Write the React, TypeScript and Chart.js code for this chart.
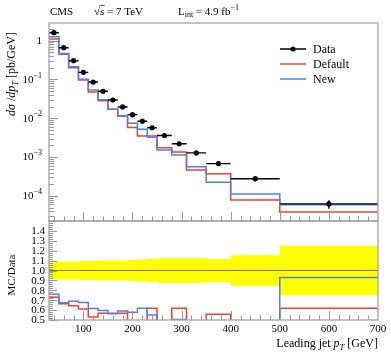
import React, { useEffect, useRef } from "react";
import { Chart, registerables } from "chart.js";
Chart.register(...registerables);

// ---------- data ----------
const binEdges = [30, 50, 70, 90, 110, 130, 150, 170, 190, 210, 230, 250, 280, 310, 350, 400, 500, 700];
const dataValues = [1.61, 0.66, 0.305, 0.153, 0.086, 0.0497, 0.0296, 0.0196, 0.0124, 0.0084, 0.0057, 0.0036, 0.0022, 0.00128, 6.8e-4, 2.77e-4, 6.2e-5];
const dataRelErr = [0.09, 0.09, 0.09, 0.095, 0.095, 0.1, 0.1, 0.1, 0.105, 0.11, 0.115, 0.125, 0.125, 0.125, 0.115, 0.155, 0.25];
const defaultValues = [1.11, 0.445, 0.202, 0.097, 0.0476, 0.0285, 0.017, 0.0115, 0.0058, 0.0035, 0.0035, 0.00175, 0.00135, 4.65e-4, 3.74e-4, 7.8e-5, 3.85e-5];
const newValues = [1.27, 0.47, 0.214, 0.101, 0.0536, 0.0302, 0.017, 0.0115, 0.0074, 0.0052, 0.00323, 0.00152, 0.00113, 5.66e-4, 2.24e-4, 1.12e-4, 5.93e-5];
const defaultRatio = [0.73, 0.665, 0.645, 0.612, 0.53, 0.567, 0.567, 0.567, 0.47, 0.42, 0.618, 0.48, 0.618, 0.36, 0.557, 0.28, 0.618];
const newRatio = [0.761, 0.673, 0.69, 0.676, 0.615, 0.595, 0.564, 0.592, 0.578, 0.618, 0.551, 0.42, 0.505, 0.44, 0.33, 0.4, 0.929];
const xMajorTicks = [100, 200, 300, 400, 500, 600, 700];
const mainDecadeExponents = [0, -1, -2, -3, -4];
const ratioTickValues = [0.5, 0.6, 0.7, 0.8, 0.9, 1.0, 1.1, 1.2, 1.3, 1.4];
const legendLabels = ["Data", "Default", "New"];

// ---------- layout / style ----------
const W = 391, H = 353;
const LEFT = 49, RIGHT = 378, MAIN_TOP = 23, SPLIT = 221, RATIO_BOTTOM = 320;
const X_MIN = 30, X_MAX = 700;
const Y_MIN = 2.25e-5, Y_MAX = 2.86;
const RED = "#f0412c", BLUE = "#4f7ff0", YELLOW = "#ffff00", FRAME = "#a3a3a3", TICK = "#999999";
const SERIF = '"Liberation Serif", "Times New Roman", serif';
const font = (size: number, italic = false) => `${italic ? "italic " : ""}${size}px ${SERIF}`;

type Part = { t: string; size: number; italic?: boolean; dy?: number };
function richWidth(ctx: CanvasRenderingContext2D, parts: Part[]) {
  let w = 0;
  for (const p of parts) { ctx.font = font(p.size, p.italic); w += ctx.measureText(p.t).width; }
  return w;
}
function drawRich(ctx: CanvasRenderingContext2D, parts: Part[], x: number, y: number, align: "left" | "right" | "center" = "left") {
  const w = richWidth(ctx, parts);
  let cx = align === "left" ? x : align === "right" ? x - w : x - w / 2;
  ctx.textAlign = "left";
  for (const p of parts) {
    ctx.font = font(p.size, p.italic);
    ctx.fillText(p.t, cx, y + (p.dy || 0));
    cx += ctx.measureText(p.t).width;
  }
  return w;
}

function stepPoints(vals: number[]) {
  const pts: { x: number; y: number }[] = [];
  vals.forEach((v, i) => { pts.push({ x: binEdges[i], y: v }); pts.push({ x: binEdges[i + 1], y: v }); });
  return pts;
}
const centers = dataValues.map((_, i) => (binEdges[i] + binEdges[i + 1]) / 2);

function hline(ctx: CanvasRenderingContext2D, x1: number, y1: number, x2: number, y2: number) {
  ctx.beginPath(); ctx.moveTo(x1, y1); ctx.lineTo(x2, y2); ctx.stroke();
}

function drawFrame(ctx: CanvasRenderingContext2D, a: any) {
  ctx.strokeStyle = FRAME; ctx.lineWidth = 1.3;
  ctx.strokeRect(a.left, a.top, a.right - a.left, a.bottom - a.top);
}
function drawXTicks(ctx: CanvasRenderingContext2D, a: any, xs: any) {
  ctx.strokeStyle = TICK; ctx.lineWidth = 1;
  for (let v = 40; v < X_MAX; v += 20) {
    const px = Math.round(xs.getPixelForValue(v)) + 0.5;
    const len = v % 100 === 0 ? 9 : 4.5;
    hline(ctx, px, a.bottom, px, a.bottom - len);
  }
}

const mainDecor = {
  id: "mainDecor",
  afterDraw(chart: any) {
    const { ctx, chartArea: a, scales } = chart;
    const xs = scales.x, ys = scales.y;
    ctx.save();
    // y ticks
    ctx.strokeStyle = TICK; ctx.lineWidth = 1;
    for (let e = -5; e <= 0; e++) for (let m = 1; m <= 9; m++) {
      const v = m * Math.pow(10, e);
      if (v < Y_MIN || v > Y_MAX) continue;
      const py = Math.round(ys.getPixelForValue(v)) + 0.5;
      hline(ctx, a.left, py, a.left + (m === 1 ? 9 : 5), py);
    }
    drawXTicks(ctx, a, xs);
    drawFrame(ctx, a);
    // y tick labels
    ctx.fillStyle = "#000"; ctx.textBaseline = "middle";
    for (const e of mainDecadeExponents) {
      const py = ys.getPixelForValue(Math.pow(10, e));
      if (e === 0) drawRich(ctx, [{ t: "1", size: 11 }], 42, py + 0.5, "right");
      else drawRich(ctx, [{ t: "10", size: 11 }, { t: "\u2212" + String(-e), size: 8, dy: -4.5 }], 42, py + 0.5, "right");
    }
    // header
    ctx.textBaseline = "alphabetic";
    drawRich(ctx, [{ t: "CMS", size: 11 }], 50, 14.5);
    ctx.font = font(11);
    const sqrtW = ctx.measureText("\u221A").width;
    drawRich(ctx, [{ t: "\u221A", size: 11 }], 94, 14.5);
    ctx.font = font(11, true);
    const sW = ctx.measureText("s").width;
    ctx.strokeStyle = "#000"; ctx.lineWidth = 0.7;
    hline(ctx, 94 + sqrtW - 0.5, 5.3, 94 + sqrtW + sW + 0.5, 5.3);
    drawRich(ctx, [{ t: "s", size: 11, italic: true }, { t: " = 7 TeV", size: 11 }], 94 + sqrtW, 14.5);
    drawRich(ctx, [{ t: "L", size: 11 }, { t: "int", size: 8, dy: 2.5 }, { t: " = 4.9 fb", size: 11 }, { t: "\u22121", size: 8, dy: -4.5 }], 178, 14.5);
    // legend
    const rows = [49, 64, 79];
    const cols = ["#000", RED, BLUE];
    legendLabels.forEach((lab, i) => {
      ctx.strokeStyle = cols[i]; ctx.lineWidth = 1.5;
      hline(ctx, 280, rows[i], 306, rows[i]);
      if (i === 0) { ctx.fillStyle = "#000"; ctx.beginPath(); ctx.arc(293, rows[i], 2.5, 0, Math.PI * 2); ctx.fill(); }
      ctx.fillStyle = "#000"; ctx.textBaseline = "middle";
      drawRich(ctx, [{ t: lab, size: 12 }], 313, rows[i] + 0.5);
    });
    // y title
    ctx.save();
    ctx.textBaseline = "alphabetic";
    const parts: Part[] = [
      { t: "d\u03C3", size: 12, italic: true }, { t: " /", size: 12 }, { t: "dp", size: 12, italic: true },
      { t: "T", size: 8.5, italic: true, dy: 3 }, { t: " [pb/GeV]", size: 12 },
    ];
    const tw = richWidth(ctx, parts);
    ctx.translate(15, 32 + tw);
    ctx.rotate(-Math.PI / 2);
    drawRich(ctx, parts, 0, 0);
    ctx.restore();
    ctx.restore();
  },
};

const ratioDecor = {
  id: "ratioDecor",
  afterDraw(chart: any) {
    const { ctx, chartArea: a, scales } = chart;
    const xs = scales.x, ys = scales.y;
    ctx.save();
    ctx.strokeStyle = TICK; ctx.lineWidth = 1;
    for (let k = 25; k <= 75; k++) {
      const v = k * 0.02;
      const py = Math.round(ys.getPixelForValue(v)) + 0.5;
      hline(ctx, a.left, py, a.left + (k % 5 === 0 ? 8 : 4), py);
    }
    drawXTicks(ctx, a, xs);
    drawFrame(ctx, a);
    ctx.fillStyle = "#000"; ctx.textBaseline = "middle";
    for (const v of ratioTickValues) {
      drawRich(ctx, [{ t: v.toFixed(1), size: 11 }], 45, ys.getPixelForValue(v) + 0.5, "right");
    }
    for (const v of xMajorTicks) {
      drawRich(ctx, [{ t: String(v), size: 11 }], xs.getPixelForValue(v), 329, "center");
    }
    ctx.textBaseline = "alphabetic";
    drawRich(ctx, [{ t: "Leading jet ", size: 12 }, { t: "p", size: 12, italic: true }, { t: "T", size: 8.5, italic: true, dy: 3 }, { t: " [GeV]", size: 12 }], RIGHT, 347, "right");
    ctx.save();
    ctx.translate(15, 275);
    ctx.rotate(-Math.PI / 2);
    drawRich(ctx, [{ t: "MC/Data", size: 11 }], 0, 0, "center");
    ctx.restore();
    ctx.restore();
  },
};

const lineDefaults = { pointRadius: 0, pointHoverRadius: 0, tension: 0, fill: false, borderCapStyle: "butt", borderJoinStyle: "miter", spanGaps: false };

function mainConfig(): any {
  const hErr: any[] = [];
  const vErr: any[] = [];
  dataValues.forEach((v, i) => {
    hErr.push({ x: binEdges[i], y: v }, { x: binEdges[i + 1], y: v }, { x: binEdges[i + 1], y: null });
    vErr.push({ x: centers[i], y: v * (1 - dataRelErr[i]) }, { x: centers[i], y: v * (1 + dataRelErr[i]) }, { x: centers[i], y: null });
  });
  return {
    type: "line",
    data: {
      datasets: [
        { label: "Data", data: centers.map((c, i) => ({ x: c, y: dataValues[i] })), showLine: false, pointRadius: 2.6, pointHoverRadius: 2.6, pointBackgroundColor: "#000", pointBorderWidth: 0, order: 0 },
        { ...lineDefaults, data: hErr, borderColor: "#000", borderWidth: 1.4, order: 1 },
        { ...lineDefaults, data: vErr, borderColor: "#000", borderWidth: 1.4, order: 1 },
        { ...lineDefaults, label: "New", data: stepPoints(newValues), borderColor: BLUE, borderWidth: 1.5, order: 2 },
        { ...lineDefaults, label: "Default", data: stepPoints(defaultValues), borderColor: RED, borderWidth: 1.5, order: 3 },
      ],
    },
    options: {
      responsive: false, animation: false, events: [],
      layout: { padding: { left: LEFT, right: W - RIGHT, top: MAIN_TOP, bottom: H - SPLIT } },
      plugins: { legend: { display: false }, tooltip: { enabled: false } },
      scales: {
        x: { type: "linear", min: X_MIN, max: X_MAX, display: false },
        y: { type: "logarithmic", min: Y_MIN, max: Y_MAX, display: false },
      },
    },
    plugins: [mainDecor],
  };
}

function ratioConfig(): any {
  return {
    type: "line",
    data: {
      datasets: [
        { ...lineDefaults, data: [{ x: X_MIN, y: 1 }, { x: X_MAX, y: 1 }], borderColor: "rgba(0,0,0,0.5)", borderWidth: 1, order: 1 },
        { ...lineDefaults, label: "New", data: stepPoints(newRatio), borderColor: BLUE, borderWidth: 1.5, order: 2 },
        { ...lineDefaults, label: "Default", data: stepPoints(defaultRatio), borderColor: RED, borderWidth: 1.5, order: 3 },
        { ...lineDefaults, data: stepPoints(dataRelErr.map((e) => 1 + e)), borderWidth: 0, borderColor: "rgba(0,0,0,0)", fill: "+1", backgroundColor: YELLOW, order: 10 },
        { ...lineDefaults, data: stepPoints(dataRelErr.map((e) => 1 - e)), borderWidth: 0, borderColor: "rgba(0,0,0,0)", order: 11 },
      ],
    },
    options: {
      responsive: false, animation: false, events: [],
      layout: { padding: { left: LEFT, right: W - RIGHT, top: SPLIT, bottom: H - RATIO_BOTTOM } },
      plugins: { legend: { display: false }, tooltip: { enabled: false }, filler: { drawTime: "beforeDatasetsDraw" } },
      scales: {
        x: { type: "linear", min: X_MIN, max: X_MAX, display: false },
        y: { type: "linear", min: 0.5, max: 1.5, display: false },
      },
    },
    plugins: [ratioDecor],
  };
}

export default function App() {
  const mainRef = useRef<HTMLCanvasElement>(null);
  const ratioRef = useRef<HTMLCanvasElement>(null);
  useEffect(() => {
    const c1 = new Chart(mainRef.current as HTMLCanvasElement, mainConfig());
    const c2 = new Chart(ratioRef.current as HTMLCanvasElement, ratioConfig());
    return () => { c1.destroy(); c2.destroy(); };
  }, []);
  return (
    <div style={{ position: "absolute", left: 0, top: 0, width: W, height: H, background: "#fff" }}>
      <canvas ref={mainRef} width={W} height={H} style={{ position: "absolute", left: 0, top: 0 }} />
      <canvas ref={ratioRef} width={W} height={H} style={{ position: "absolute", left: 0, top: 0 }} />
    </div>
  );
}
